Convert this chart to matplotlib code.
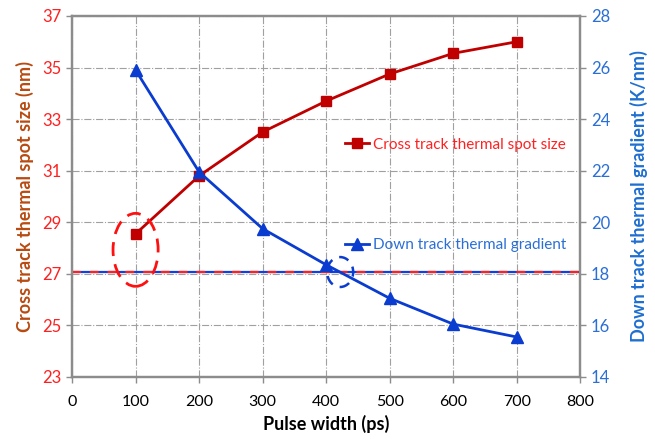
import numpy as np
import matplotlib.pyplot as plt
from matplotlib.patches import Ellipse
import matplotlib

matplotlib.rcParams.update({'font.family': ['Lato', 'DejaVu Sans'], 'font.size': 11.5})

pulse_width = [100, 200, 300, 400, 500, 600, 700]
spot_size = [28.55, 30.8, 32.5, 33.7, 34.75, 35.55, 36.0]
gradient = [25.9, 21.95, 19.75, 18.35, 17.05, 16.05, 15.55]
threshold_spot = 27.07
x_ticks = [0, 100, 200, 300, 400, 500, 600, 700, 800]
left_ticks = [23, 25, 27, 29, 31, 33, 35, 37]
right_ticks = [14, 16, 18, 20, 22, 24, 26, 28]

red = '#C00000'
blue = '#0A3CCF'
spine_col = '#8C8C8C'

fig = plt.figure(figsize=(6.55, 4.43), dpi=100)
ax = fig.add_axes([0.110, 0.149, 0.776, 0.815])
ax2 = ax.twinx()

ax.set_xlim(0, 800)
ax.set_ylim(23, 37)
ax2.set_ylim(14, 28)
ax.set_xticks(x_ticks)
ax.set_yticks(left_ticks)
ax2.set_yticks(right_ticks)

ax.grid(True, color='#A0A0A0', linestyle='-.', linewidth=0.8)
ax.set_axisbelow(True)

for a in (ax, ax2):
    for s in a.spines.values():
        s.set_color(spine_col)
        s.set_linewidth(1.6)
ax.tick_params(axis='x', colors=spine_col, labelcolor='black', length=4, width=1, pad=9)
ax.tick_params(axis='y', colors=spine_col, labelcolor='#FF2020', length=4, width=1, labelsize=12)
ax2.tick_params(axis='y', colors=spine_col, labelcolor='#2A6FD6', length=4, width=1, labelsize=12)

# threshold line: blue solid under red dashes
ax.axhline(threshold_spot, color='#1040E0', linewidth=1.6, zorder=3)
ax.axhline(threshold_spot, color='#FF2020', linewidth=1.6, linestyle=(0, (4, 4)), zorder=3)

l1, = ax.plot(pulse_width, spot_size, '-s', color=red, linewidth=2, markersize=7,
              zorder=4, label='Cross track thermal spot size')
l2, = ax2.plot(pulse_width, gradient, '-^', color=blue, linewidth=2, markersize=8,
               zorder=4, label='Down track thermal gradient')

ax.add_patch(Ellipse((100, 27.93), 71, 2.83, fill=False, edgecolor='#FF1010',
                     linestyle=(0, (5, 3)), linewidth=2, zorder=5))
ax2.add_patch(Ellipse((422, 18.07), 41, 1.16, fill=False, edgecolor=blue,
                      linestyle=(0, (4, 3)), linewidth=1.8, zorder=5))

leg1 = ax2.legend(handles=[l1], loc='center left', bbox_to_anchor=(0.51, 0.643),
                  frameon=False, handlelength=1.6, handletextpad=0.2, fontsize=11)
for t in leg1.get_texts():
    t.set_color('#FF2020')
ax2.add_artist(leg1)
leg2 = ax2.legend(handles=[l2], loc='center left', bbox_to_anchor=(0.51, 0.366),
                  frameon=False, handlelength=1.6, handletextpad=0.2, fontsize=11)
for t in leg2.get_texts():
    t.set_color('#2A6FD6')

ax.set_xlabel('Pulse width (ps)', fontweight='bold', fontsize=13)
ax.set_ylabel('Cross track thermal spot size (nm)', fontweight='bold', fontsize=13,
              color='#B84A10', labelpad=6)
ax2.set_ylabel('Down track thermal gradient (K/nm)', fontweight='bold', fontsize=13,
               color='#1F6FD0', labelpad=14)

plt.savefig('out.png', dpi=100)
